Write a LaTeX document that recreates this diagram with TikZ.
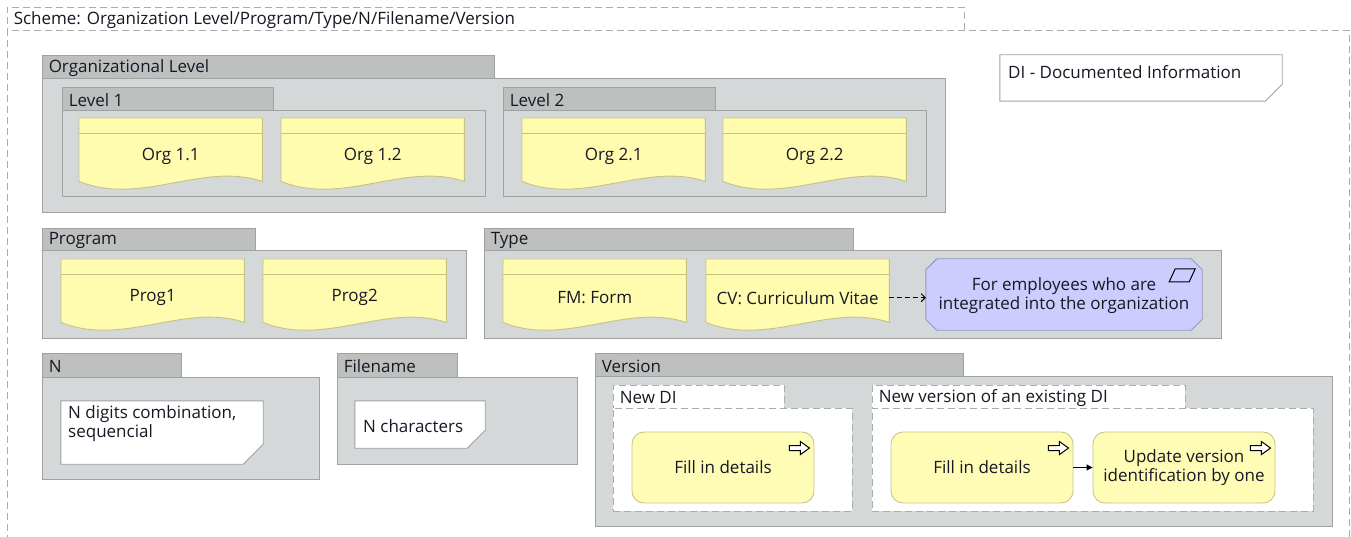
\documentclass[tikz,border=0pt]{standalone}
\usepackage{fontspec}
\setmainfont{Open Sans}
\usetikzlibrary{calc,fit,arrows.meta}

\definecolor{tabgray}{RGB}{190,192,192}
\definecolor{bodygray}{RGB}{212,216,216}
\definecolor{framegray}{RGB}{160,162,162}
\definecolor{dashgray}{RGB}{172,172,172}
\definecolor{docyellow}{RGB}{255,252,176}
\definecolor{docedge}{RGB}{198,194,132}
\definecolor{procyellow}{RGB}{255,252,182}
\definecolor{procedge}{RGB}{200,196,140}
\definecolor{lilac}{RGB}{204,204,255}
\definecolor{lilacedge}{RGB}{150,150,200}
\definecolor{ink}{RGB}{24,24,36}

\tikzset{
  pkgtab/.style={draw=framegray, fill=tabgray, line width=0.9pt, inner sep=0pt},
  pkgbody/.style={draw=framegray, fill=bodygray, line width=0.9pt, inner sep=0pt},
  lanebox/.style={draw=dashgray, fill=white, line width=0.9pt, inner sep=0pt,
                  dash pattern=on 7pt off 4pt},
  framelabel/.style={anchor=west, inner sep=0pt},
  docframe/.style={inner sep=0pt, minimum width=183pt, minimum height=63pt},
  docfill/.style={draw=docedge, fill=docyellow, line width=0.9pt},
  notefill/.style={draw=framegray, fill=white, line width=0.9pt},
  fitbox/.style={inner sep=0pt},
  procbox/.style={draw=procedge, fill=procyellow, line width=0.9pt,
                  rounded corners=12pt, minimum width=182pt, minimum height=71pt,
                  inner sep=2pt, align=center},
  txtline/.style={inner sep=0pt, align=center},
}

% package frame: name, left x, tab top, tab right, tab bottom, body right, body bottom, label
\newcommand\pkgframe[8]{%
  \node[pkgtab, fit={(#2,#3)(#4,#5)}] (#1-tab) {};
  \node[pkgbody, fit={(#2,#5)(#6,#7)}] (#1) {};
  \node[framelabel] (#1-lbl) at ([xshift=7pt,yshift=-1.5pt]#1-tab.west) {#8};
}
% dashed lane: same arguments
\newcommand\laneframe[8]{%
  \node[lanebox, fit={(#2,#3)(#4,#5)}] (#1-tab) {};
  \node[lanebox, fit={(#2,#5)(#6,#7)}] (#1) {};
  \node[framelabel] (#1-lbl) at ([xshift=7pt,yshift=-1.5pt]#1-tab.west) {#8};
}
% document with header strip and wavy bottom: name, left x, top y, text
\newcommand\docitem[4]{%
  \node[docframe, anchor=north west] (#1) at (#2,#3) {};
  \filldraw[docfill] (#1.north west) -- (#1.north east) -- (#1.south east)
     .. controls +(-60,-20) and +(62,25) .. (#1.south west) -- cycle;
  \draw[docfill] ($(#1.north west)+(0,15)$) -- ($(#1.north east)+(0,15)$);
  \node[txtline] (#1-t) at ($(#1.center)+(0,7)$) {#4};
}
% note with a cut lower right corner: name, x1, y1, x2, y2, cut
\newcommand\noteitem[6]{%
  \node[fitbox, fit={(#2,#3)(#4,#5)}] (#1) {};
  \filldraw[notefill] (#1.north west) -- (#1.north east) -- ([yshift=#6pt]#1.south east)
     -- ([xshift=-#6pt]#1.south east) -- (#1.south west) -- cycle;
}
% hollow arrow marker in the upper right of a task
\newcommand\taskicon[1]{%
  \draw[line width=1pt, draw=black, fill=white]
    ($(#1.north east)+(-25,14)$) -- ++(11,0) -- ++(0,-4) -- ++(9,6.5)
    -- ++(-9,6.5) -- ++(0,-4) -- ++(-11,0) -- cycle;
}

\begin{document}
\begin{tikzpicture}[x=1pt, y=-1pt, text=ink,
                    font=\fontsize{17}{19.5}\selectfont]
\useasboundingbox (0,0) rectangle (1351,537);
\clip (0,0) rectangle (1351,537);

% outer scheme frame
\laneframe{scheme}{7}{7}{964}{30}{1349}{570}{Scheme: Organization Level/Program/Type/N/Filename/Version}

% organizational level
\pkgframe{orglevel}{42}{55}{494}{78}{945}{212}{Organizational Level}
\pkgframe{level1}{62}{87}{273}{110}{485}{196}{Level 1}
\pkgframe{level2}{503}{87}{715}{110}{926}{196}{Level 2}
\docitem{org11}{79}{118}{Org 1.1}
\docitem{org12}{281}{118}{Org 1.2}
\docitem{org21}{522}{118}{Org 2.1}
\docitem{org22}{723}{118}{Org 2.2}

% legend note
\noteitem{dinote}{1000}{55}{1282}{101}{17}
\node[framelabel] (dinote-t) at (1008,72) {DI - Documented Information};

% program
\pkgframe{program}{42}{228}{255}{250}{466}{338}{Program}
\docitem{prog1}{61}{259}{Prog1}
\docitem{prog2}{263}{259}{Prog2}

% type
\pkgframe{type}{484}{228}{853}{250}{1221}{338}{Type}
\docitem{fm}{503}{259}{FM: Form}
\docitem{cv}{706}{259}{CV: Curriculum Vitae}

% information object with chamfered corners
\node[fitbox, fit={(926,259)(1202,330)}] (info) {};
\filldraw[draw=lilacedge, fill=lilac, line width=0.9pt]
  ([xshift=11pt]info.north west) -- ([xshift=-11pt]info.north east)
  -- ([yshift=-11pt]info.north east) -- ([yshift=11pt]info.south east)
  -- ([xshift=-11pt]info.south east) -- ([xshift=11pt]info.south west)
  -- ([yshift=11pt]info.south west) -- ([yshift=-11pt]info.north west) -- cycle;
\draw[line width=1pt, draw=black]
  ($(info.north east)+(-27,10)$) -- ++(20,0) -- ++(-6,13) -- ++(-20,0) -- cycle;
\node[txtline] (info-t) at (1064,295.5) {For employees who are\\integrated into the organization};
\draw[dash pattern=on 5pt off 3pt, line width=0.9pt, -{Straight Barb[length=4pt,width=8pt]}]
  (cv.east |- cv-t.center) -- (info.west |- cv-t.center);

% N
\pkgframe{nfield}{42}{353}{181}{377}{319}{479}{N}
\noteitem{nnote}{61}{401}{263}{464}{20}
\node[framelabel, align=left] (nnote-t) at (68,423.5) {N digits combination,\\sequencial};

% filename
\pkgframe{filename}{337}{353}{457}{377}{577}{464}{Filename}
\noteitem{fnote}{355}{401}{485}{448}{18}
\node[framelabel] (fnote-t) at (363,426) {N characters};

% version
\pkgframe{version}{595}{353}{963}{376}{1332}{526}{Version}
\laneframe{newdi}{613}{385}{784}{408}{852}{511}{New DI}
\laneframe{newver}{872}{385}{1185}{408}{1313}{511}{New version of an existing DI}

\node[procbox] (fill1) at (723,467.5) {Fill in details};
\taskicon{fill1}
\node[procbox] (fill2) at (982,467.5) {Fill in details};
\taskicon{fill2}
\node[procbox] (update) at (1184,467.5) {Update version\\identification by one};
\taskicon{update}
\draw[line width=0.9pt, -{Triangle[length=6pt,width=6pt]}] (fill2) -- (update);

\end{tikzpicture}
\end{document}
